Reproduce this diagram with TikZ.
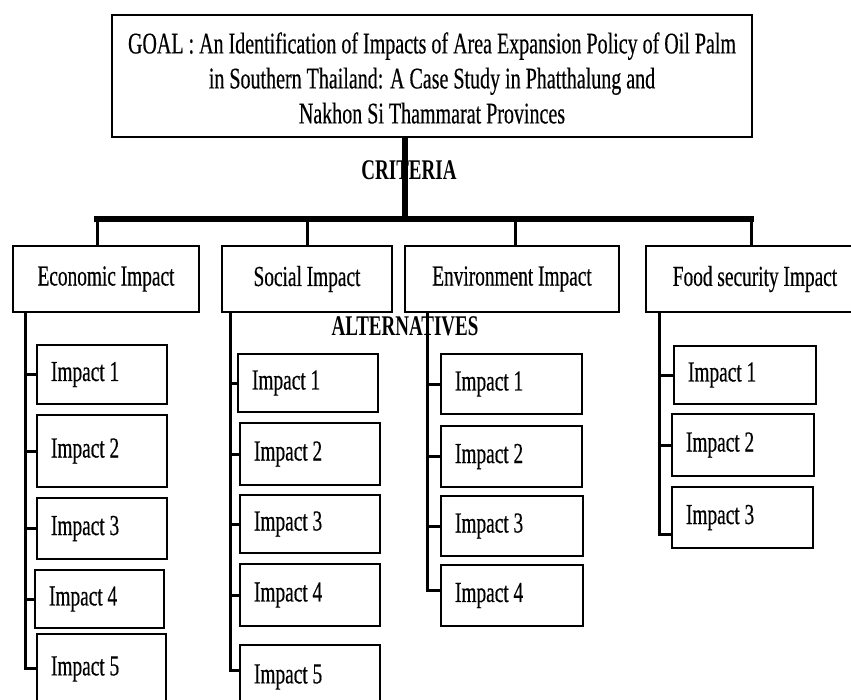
\documentclass[tikz,border=0pt]{standalone}
\usepackage{fontspec}
\setmainfont{Liberation Serif}[FakeStretch=0.667,
  UprightFeatures={FakeBold=0.4}]
\begin{document}
\begin{tikzpicture}[x=1pt,y=-1pt,
  box/.style={draw, line width=2pt, inner sep=0pt, outer sep=0pt},
  critbox/.style={box, font=\fontsize{29}{34}\selectfont},
  impbox/.style={box, font=\fontsize{29}{34}\selectfont, inner xsep=14pt, inner ysep=0pt},
  heading/.style={font=\fontsize{28.5}{34}\selectfont\bfseries, inner sep=0pt},
  bus/.style={line width=5.5pt, line cap=rect},
  goalstem/.style={line width=6pt},
  drop/.style={line width=3pt},
  trunk/.style={line width=3pt, line join=miter},
  branch/.style={line width=3pt}]

% criterion box: name, x1, y1, x2, y2, label
\newcommand\critnode[6]{%
  \pgfmathsetmacro\bw{#4-#2}\pgfmathsetmacro\bh{#5-#3}%
  \node[critbox, minimum width=\bw pt, minimum height=\bh pt] (#1)
    at ({(#2+#4)/2},{(#3+#5)/2}) {#6};}
% alternative box (label set flush left): name, x1, y1, x2, y2, label
\newcommand\impactnode[6]{%
  \pgfmathsetmacro\tw{#4-#2-28}\pgfmathsetmacro\bh{#5-#3}%
  \node[impbox, minimum height=\bh pt] (#1)
    at ({(#2+#4)/2},{(#3+#5)/2}) {\makebox[\tw pt][l]{#6}};}

\useasboundingbox (0,0) rectangle (851,699);

% goal
\pgfmathsetmacro\gw{752-112}\pgfmathsetmacro\gh{137-15}
\node[box, minimum width=\gw pt, minimum height=\gh pt] (goal) at (432,76) {};
\node[font=\fontsize{30}{35}\selectfont, align=center, inner sep=0pt] (goaltext) at (432,78)
  {GOAL : An Identification of Impacts of Area Expansion Policy of Oil Palm\\
   in Southern Thailand: A Case Study in Phatthalung and\\
   Nakhon Si Thammarat Provinces};

% criteria level
\critnode{econ}{13}{246}{199}{312}{Economic Impact}
\critnode{social}{222}{246}{392}{312}{Social Impact}
\critnode{env}{405}{246}{619}{312}{Environment Impact}
\critnode{food}{646}{246}{864}{312}{Food security Impact}

\coordinate (hub) at (405,219);
\coordinate (econdrop) at (97,219);
\coordinate (socialdrop) at (307,219);
\coordinate (envdrop) at (515,219);
\coordinate (fooddrop) at (751,219);

\draw[goalstem] (goal.south -| hub) -- (hub);
\draw[bus] (econdrop) -- (fooddrop);
\foreach \c in {econ,social,env,food}
  \draw[drop] (\c drop) -- (\c drop |- \c.north);

\node[heading, anchor=base] (criteria) at (409,179) {CRITERIA};

% alternatives: economic
\impactnode{e1}{37}{345}{167}{404}{Impact 1}
\impactnode{e2}{37}{415}{167}{487}{Impact 2}
\impactnode{e3}{37}{498}{167}{559}{Impact 3}
\impactnode{e4}{35}{570}{164}{628}{Impact 4}
\impactnode{e5}{37}{634}{166}{704}{Impact 5}
% alternatives: social
\impactnode{s1}{238}{354}{378}{412}{Impact 1}
\impactnode{s2}{240}{423}{380}{485}{Impact 2}
\impactnode{s3}{240}{495}{380}{553}{Impact 3}
\impactnode{s4}{240}{564}{380}{626}{Impact 4}
\impactnode{s5}{240}{645}{380}{709}{Impact 5}
% alternatives: environment
\impactnode{v1}{441}{354}{582}{414}{Impact 1}
\impactnode{v2}{441}{426}{582}{487}{Impact 2}
\impactnode{v3}{441}{496}{583}{556}{Impact 3}
\impactnode{v4}{441}{565}{583}{626}{Impact 4}
% alternatives: food security
\impactnode{f1}{674}{346}{816}{404}{Impact 1}
\impactnode{f2}{672}{414}{814}{476}{Impact 2}
\impactnode{f3}{672}{487}{813}{548}{Impact 3}

% trunks
\coordinate (etop) at (25,312);   \coordinate (eend) at (25,668);
\coordinate (stop) at (230,312);  \coordinate (send) at (230,670);
\coordinate (vtop) at (427,312);  \coordinate (vend) at (427,590);
\coordinate (ftop) at (659,312);  \coordinate (fend) at (659,534);

\draw[trunk] (etop) -- (eend) -- (eend -| e5.west);
\draw[trunk] (stop) -- (send) -- (send -| s5.west);
\draw[trunk] (vtop) -- (vend) -- (vend -| v4.west);
\draw[trunk] (ftop) -- (fend) -- (fend -| f3.west);

\foreach \n in {e1,e2,e3,e4} \draw[branch] (\n.west -| etop) -- (\n.west);
\foreach \n in {s1,s2,s3,s4} \draw[branch] (\n.west -| stop) -- (\n.west);
\foreach \n in {v1,v2,v3} \draw[branch] (\n.west -| vtop) -- (\n.west);
\foreach \n in {f1,f2} \draw[branch] (\n.west -| ftop) -- (\n.west);

\node[heading, anchor=base] (alternatives) at (405,335) {ALTERNATIVES};
\end{tikzpicture}
\end{document}
